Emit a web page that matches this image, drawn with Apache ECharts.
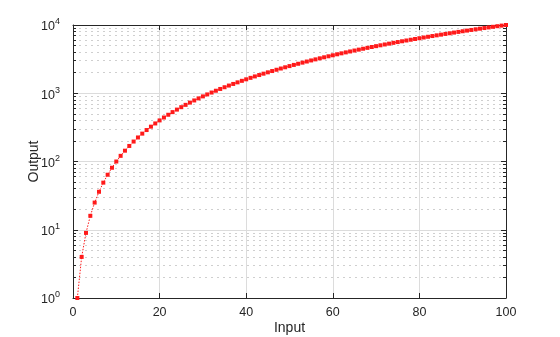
<!DOCTYPE html>
<html>
<head>
<meta charset="utf-8">
<script src="https://cdn.jsdelivr.net/npm/echarts@6/dist/echarts.min.js"></script>
<style>html,body{margin:0;padding:0;background:#fff}#c{width:560px;height:337px}</style>
</head>
<body>
<div id="c"></div>
<script>
const inputValues = [1,2,3,4,5,6,7,8,9,10,11,12,13,14,15,16,17,18,19,20,21,22,23,24,25,26,27,28,29,30,31,32,33,34,35,36,37,38,39,40,41,42,43,44,45,46,47,48,49,50,51,52,53,54,55,56,57,58,59,60,61,62,63,64,65,66,67,68,69,70,71,72,73,74,75,76,77,78,79,80,81,82,83,84,85,86,87,88,89,90,91,92,93,94,95,96,97,98,99,100];
const outputValues = [1,4,9,16,25,36,49,64,81,100,121,144,169,196,225,256,289,324,361,400,441,484,529,576,625,676,729,784,841,900,961,1024,1089,1156,1225,1296,1369,1444,1521,1600,1681,1764,1849,1936,2025,2116,2209,2304,2401,2500,2601,2704,2809,2916,3025,3136,3249,3364,3481,3600,3721,3844,3969,4096,4225,4356,4489,4624,4761,4900,5041,5184,5329,5476,5625,5776,5929,6084,6241,6400,6561,6724,6889,7056,7225,7396,7569,7744,7921,8100,8281,8464,8649,8836,9025,9216,9409,9604,9801,10000];
const xTickLabels = [0,20,40,60,80,100];
const yTickValues = [1,10,100,1000,10000];
const minorMultipliers = [2,3,4,5,6,7,8,9];

const minorValues = [];
yTickValues.slice(0,-1).forEach(d => minorMultipliers.forEach(m => minorValues.push(d*m)));

const axisColor = '#262626';
const font = 'Liberation Sans, Arial, sans-serif';

const chart = echarts.init(document.getElementById('c'), null, {renderer:'canvas'});
const tickSegs = [];
minorValues.forEach(v => {
  tickSegs.push([{coord:[0, v]}, {coord:[0.7, v]}]);
  tickSegs.push([{coord:[99.3, v]}, {coord:[100, v]}]);
});

chart.setOption({
  animation: false,
  backgroundColor: '#fff',
  grid: {left: 73, right: 54, top: 25, bottom: 39, containLabel: false, outerBoundsMode: 'none'},
  xAxis: [{
    type: 'value', min: 0, max: 100, interval: 20,
    name: 'Input', nameLocation: 'middle', nameGap: 23, nameMoveOverlap: false,
    nameTextStyle: {fontSize: 14, color: axisColor, fontFamily: font},
    axisLine: {onZero: false, lineStyle: {color: axisColor, width: 1}},
    axisTick: {inside: true, length: 5, lineStyle: {color: axisColor}},
    axisLabel: {fontSize: 12.5, color: axisColor, fontFamily: font, margin: 8,
      formatter: v => xTickLabels.includes(v) ? String(v) : ''},
    splitLine: {show: true, lineStyle: {color: '#dcdcdc', width: 1}}
  }, {
    type: 'value', min: 0, max: 100, interval: 20, position: 'top',
    axisLine: {onZero: false, lineStyle: {color: axisColor, width: 1}},
    axisTick: {inside: true, length: 5, lineStyle: {color: axisColor}},
    axisLabel: {show: false}, splitLine: {show: false}
  }],
  yAxis: [{
    type: 'log', logBase: 10, min: 1, max: 10000,
    name: 'Output', nameLocation: 'middle', nameGap: 32, nameMoveOverlap: false,
    nameTextStyle: {fontSize: 14, color: axisColor, fontFamily: font},
    axisLine: {onZero: false, lineStyle: {color: axisColor, width: 1}},
    axisTick: {inside: true, length: 5, lineStyle: {color: axisColor}},
    axisLabel: {color: axisColor, fontFamily: font, margin: 13,
      formatter: v => '{b|10}{s|' + Math.round(Math.log10(v)) + '}',
      rich: {
        b: {fontSize: 12.5, color: axisColor, fontFamily: font, padding: [4,0,0,0]},
        s: {fontSize: 9, color: axisColor, fontFamily: font, padding: [0,0,6,0]}
      }},
    splitLine: {show: true, lineStyle: {color: '#dcdcdc', width: 1}}
  }, {
    type: 'log', logBase: 10, min: 1, max: 10000, position: 'right',
    axisLine: {onZero: false, lineStyle: {color: axisColor, width: 1}},
    axisTick: {inside: true, length: 5, lineStyle: {color: axisColor}},
    axisLabel: {show: false}, splitLine: {show: false}
  }],
  series: [{
    type: 'line',
    data: inputValues.map((x, i) => [x, outputValues[i]]),
    symbol: 'rect', symbolSize: 4,
    itemStyle: {color: '#ff1a1a'},
    lineStyle: {color: '#ff1a1a', width: 1, type: [1.5, 1.5]},
    z: 5,
    markLine: {
      silent: true, symbol: 'none', label: {show: false}, animation: false,
      lineStyle: {color: '#cfcfcf', width: 1, type: [2, 4]},
      data: minorValues.map(v => ({yAxis: v}))
    }
  }, {
    type: 'line', data: [], z: 6,
    markLine: {
      silent: true, symbol: 'none', label: {show: false}, animation: false,
      lineStyle: {color: axisColor, width: 1, type: 'solid'},
      data: tickSegs
    }
  }]
});
</script>
</body>
</html>
